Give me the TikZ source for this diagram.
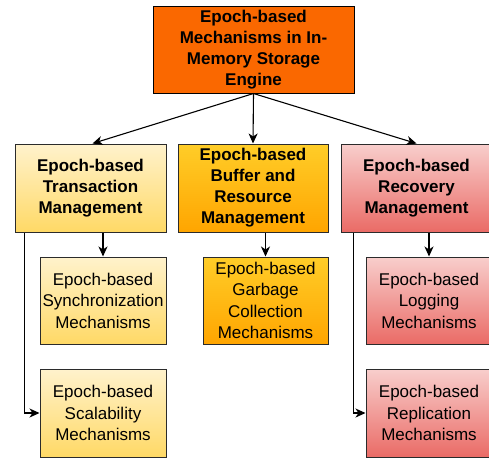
\documentclass[tikz,border=0pt]{standalone}
\usepackage{fontspec}
\setmainfont{Liberation Sans}
\usepackage{xcolor}
\usepackage{tikz}
\usetikzlibrary{positioning,calc,arrows.meta}

\definecolor{rootorange}{HTML}{FA6800}
\definecolor{ylwtop}{HTML}{FFF2CC}
\definecolor{ylwbot}{HTML}{FFD966}
\definecolor{orgtop}{HTML}{FFCD28}
\definecolor{orgbot}{HTML}{FFA500}
\definecolor{redtop}{HTML}{F8CECC}
\definecolor{redbot}{HTML}{EA6B66}
\definecolor{edgegray}{HTML}{2B2B2B}

\begin{document}
\begin{tikzpicture}[x=1pt, y=-1pt,
    box/.style={draw=edgegray, line width=1pt, align=center, inner sep=1pt,
        font=\fontsize{17}{21.5}\selectfont},
    headbox/.style={box, font=\fontsize{17}{21}\selectfont\bfseries},
    yellowbox/.style={top color=ylwtop, bottom color=ylwbot},
    orangebox/.style={top color=orgtop, bottom color=orgbot},
    redbox/.style={top color=redtop, bottom color=redbot},
    link/.style={line width=1.1pt, -{Stealth[length=10pt, width=9pt, inset=3pt]}}
]
    \clip (0,0) rectangle (489,459);

    % Root
    \node [headbox, fill=rootorange, draw=black, minimum width=201pt, minimum height=87pt]
        (root) at (253.5, 49.5) {Epoch-based\\Mechanisms in In-\\Memory Storage\\Engine};

    % Second level
    \node [headbox, yellowbox, minimum width=151pt, minimum height=88pt]
        (trans) at (90.5, 188) {Epoch-based\\Transaction\\Management};
    \node [headbox, orangebox, minimum width=150pt, minimum height=88pt]
        (buffer) at (253, 188) {Epoch-based\\Buffer and\\Resource\\Management};
    \node [headbox, redbox, minimum width=151pt, minimum height=88pt]
        (recov) at (416.5, 188) {Epoch-based\\Recovery\\Management};

    % Leaves
    \node [box, yellowbox, minimum width=126pt, minimum height=87pt]
        (sync) at (103, 300.5) {Epoch-based\\Synchronization\\Mechanisms};
    \node [box, yellowbox, minimum width=126pt, minimum height=88pt]
        (scal) at (103, 413) {Epoch-based\\Scalability\\Mechanisms};
    \node [box, orangebox, minimum width=125pt, minimum height=87pt]
        (gc) at (265.5, 300.5) {Epoch-based\\Garbage\\Collection\\Mechanisms};
    \node [box, redbox, minimum width=126pt, minimum height=87pt]
        (logg) at (429, 300.5) {Epoch-based\\Logging\\Mechanisms};
    \node [box, redbox, minimum width=126pt, minimum height=88pt]
        (repl) at (429, 413) {Epoch-based\\Replication\\Mechanisms};

    % Root to second level
    \draw [link] (root.south) -- ([xshift=2pt]trans.north);
    \draw [link] (root.south) -- (buffer.north);
    \draw [link] (root.south) -- (recov.north);

    % Second level to leaves
    \draw [link] (trans.south -| sync.north) -- (sync.north);
    \draw [link] ([xshift=10pt]trans.south west) |- (scal.west);
    \draw [link] (buffer.south -| gc.north) -- (gc.north);
    \draw [link] (recov.south -| logg.north) -- (logg.north);
    \draw [link] ([xshift=13pt]recov.south west) |- (repl.west);
\end{tikzpicture}
\end{document}
